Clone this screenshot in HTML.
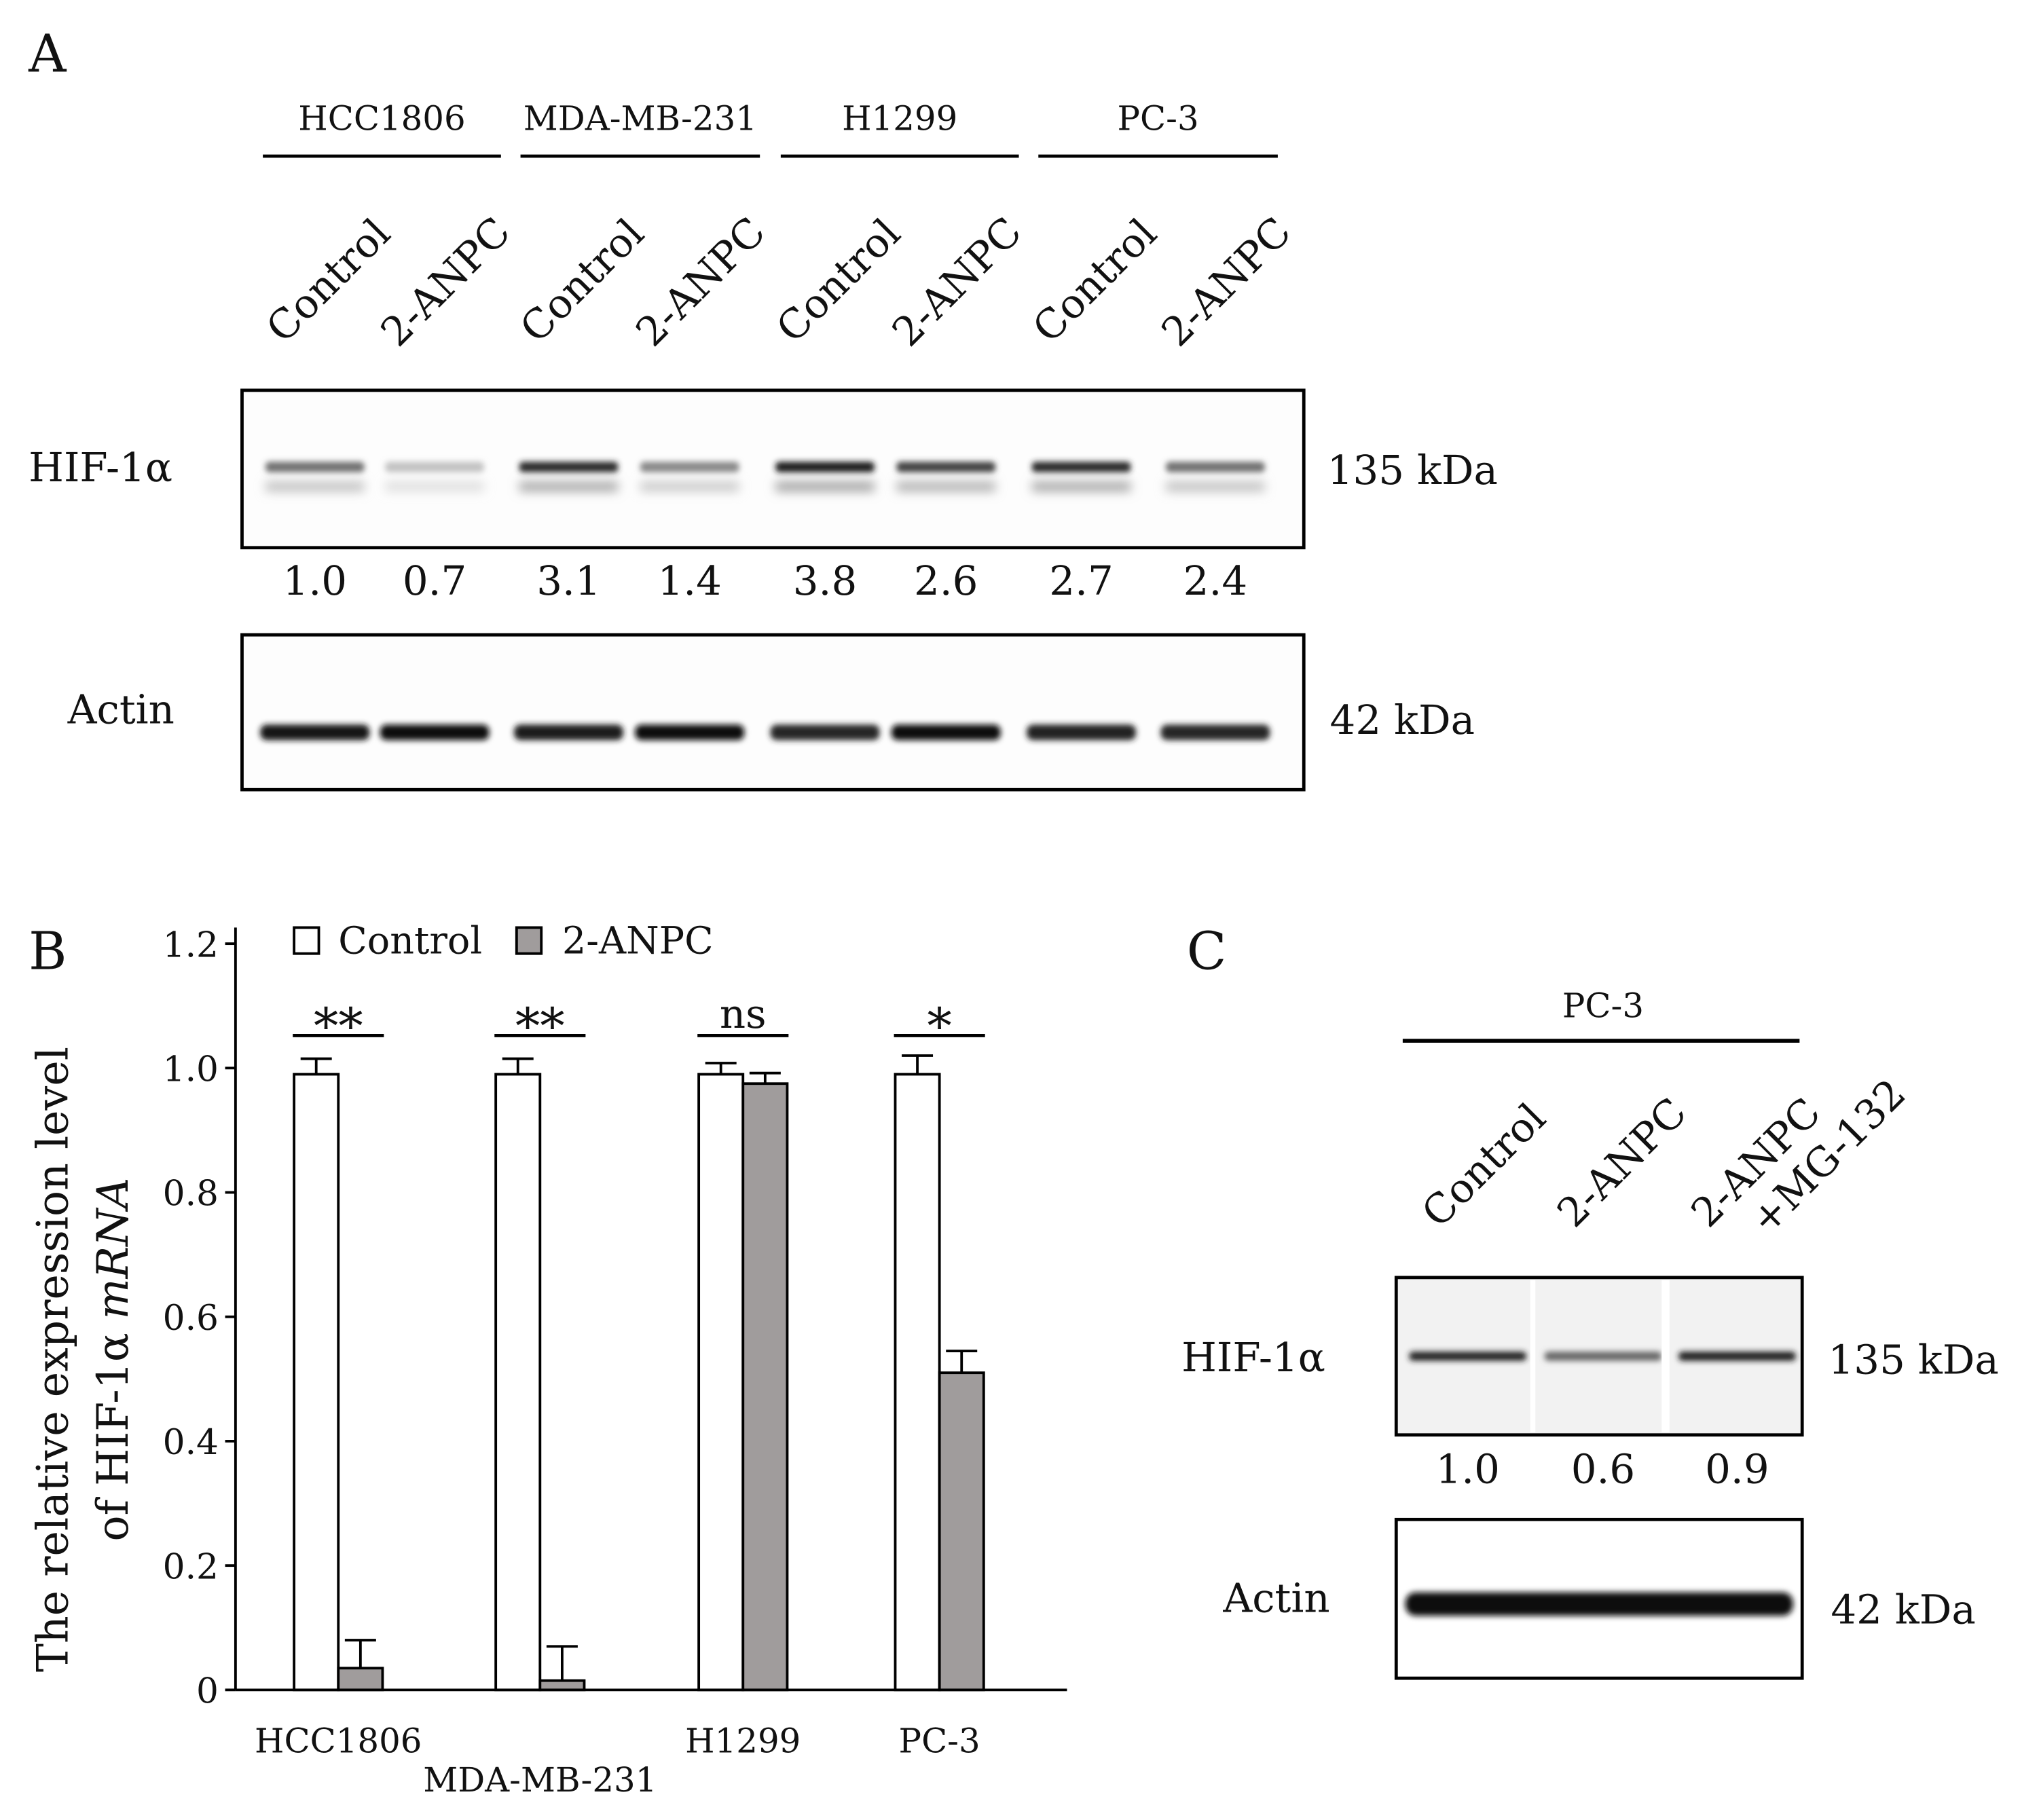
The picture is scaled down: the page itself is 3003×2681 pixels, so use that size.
<!DOCTYPE html>
<html><head><meta charset="utf-8"><style>
html,body{margin:0;padding:0;background:#fff}
svg{display:block}
text{font-family:"DejaVu Serif","Liberation Serif",serif;fill:#111}
</style></head><body>
<svg id="fig" width="3003" height="2681" viewBox="0 0 1567 1399" xmlns="http://www.w3.org/2000/svg">
<defs>
<filter id="blur" x="-20%" y="-200%" width="140%" height="500%"><feGaussianBlur stdDeviation="2.2"/></filter>
<filter id="blur2" x="-20%" y="-200%" width="140%" height="500%"><feGaussianBlur stdDeviation="4"/></filter>
</defs>
<g id="panelA"></g>
<g id="panelB"></g>
<g id="panelC"></g>
</svg>
<script>
// Panel B data
const categories = ["HCC1806","MDA-MB-231","H1299","PC-3"];
const controlValues = [0.99, 0.99, 0.99, 0.99];
const controlErrors = [0.025, 0.025, 0.018, 0.03];
const anpcValues = [0.035, 0.015, 0.975, 0.51];
const anpcErrors = [0.045, 0.055, 0.017, 0.035];
const sigLabels = ["**","**","ns","*"];
const yTicks = [0, 0.2, 0.4, 0.6, 0.8, 1.0, 1.2];
const yTickLabels = ["0","0.2","0.4","0.6","0.8","1.0","1.2"];
// Panel A data
const aCellLines = ["HCC1806","MDA-MB-231","H1299","PC-3"];
const aLanes = ["Control","2-ANPC","Control","2-ANPC","Control","2-ANPC","Control","2-ANPC"];
const aRatios = ["1.0","0.7","3.1","1.4","3.8","2.6","2.7","2.4"];
const aHifIntensity = [0.55, 0.2, 0.85, 0.45, 0.92, 0.75, 0.85, 0.55];
const aActinIntensity = [0.95, 1.0, 0.92, 1.0, 0.88, 0.98, 0.9, 0.88];
// Panel C data
const cLanes = ["Control","2-ANPC","2-ANPC|+MG-132"];
const cRatios = ["1.0","0.6","0.9"];
const cHifIntensity = [0.9, 0.6, 0.92];

const NS="http://www.w3.org/2000/svg";
function mk(parent, tag, attrs, txt){
  const e=document.createElementNS(NS,tag);
  for(const k in attrs) e.setAttribute(k,attrs[k]);
  if(txt!==undefined) e.textContent=txt;
  parent.appendChild(e); return e;
}
function gray(v){const c=Math.round(255*(1-v)*0.9+10);return `rgb(${c},${c},${c})`;}

// ---------- Panel A ----------
const A=document.getElementById('panelA');
let t=mk(A,'text',{x:22,y:55,'font-size':40},'A');


const groupX=[[202,385],[400,584],[600,783],[798,982]];
aCellLines.forEach((c,i)=>{
  const [x0,x1]=groupX[i];
  let l=mk(A,'line',{x1:x0,x2:x1,y1:120,y2:120,stroke:'#000','stroke-width':2.5});
  
  
  let tt=mk(A,'text',{x:(x0+x1)/2,y:100,'font-size':26,'text-anchor':'middle'},c);
  
  
});
const laneX=[242,334,437,530,634,727,831,934];
aLanes.forEach((n,i)=>{
  const sx=laneX[i]-(i%2?28:24), sy=i%2?268:265;
  let tt=mk(A,'text',{x:sx,y:sy,'font-size':31,transform:`rotate(-45 ${sx} ${sy})`},n);
  
  
});
// HIF blot
let bx=mk(A,'rect',{x:186,y:300,width:816,height:121,fill:'#fdfdfd',stroke:'#000','stroke-width':2.5});


aHifIntensity.forEach((v,i)=>{
  let s=mk(A,'rect',{x:laneX[i]-38,y:370,width:76,height:8,fill:gray(v*0.35),filter:'url(#blur2)'});
  
  
  let b=mk(A,'rect',{x:laneX[i]-38,y:355,width:76,height:8,rx:3,fill:gray(v),filter:'url(#blur)'});
  
  
});
aRatios.forEach((r,i)=>{
  let tt=mk(A,'text',{x:laneX[i],y:457,'font-size':31,'text-anchor':'middle'},r);
  
  
});
bx=mk(A,'rect',{x:186,y:488,width:816,height:119,fill:'#fdfdfd',stroke:'#000','stroke-width':2.5});


aActinIntensity.forEach((v,i)=>{
  let b=mk(A,'rect',{x:laneX[i]-42,y:557,width:84,height:12,rx:5,fill:gray(v),filter:'url(#blur)'});
  
  
});
[['HIF-1α',22,370,'hif-label-a'],['Actin',52,556,'actin-label-a'],['135 kDa',1020,372,'hif-kda-a'],['42 kDa',1022,564,'actin-kda-a']].forEach(a=>{
  let tt=mk(A,'text',{x:a[1],y:a[2],'font-size':31},a[0]);
  
  
});

// ---------- Panel B ----------
const B=document.getElementById('panelB');
const x0=181, yZero=1299, pxPerUnit=(1299-821)/1.0;
const yS=v=>yZero-v*pxPerUnit;
const groupLeft=[226,381,537,688], barW=34;
t=mk(B,'text',{x:22,y:745,'font-size':40},'B');


let ax=mk(B,'line',{x1:x0,x2:x0,y1:713,y2:yZero,stroke:'#000','stroke-width':2});


ax=mk(B,'line',{x1:x0,x2:820,y1:yZero,y2:yZero,stroke:'#000','stroke-width':2});


yTicks.forEach((v,i)=>{
  let tk=mk(B,'line',{x1:x0-8,x2:x0,y1:yS(v),y2:yS(v),stroke:'#000','stroke-width':2});
  
  
  let tl=mk(B,'text',{x:x0-13,y:yS(v)+10,'font-size':27,'text-anchor':'end'},yTickLabels[i]);
  
  
});
let yt=mk(B,'text',{transform:'translate(52 1045) rotate(-90)','font-size':33,'text-anchor':'middle'},'The relative expression level');


yt=mk(B,'text',{transform:'translate(98 1045) rotate(-90)','font-size':33,'text-anchor':'middle'});


mk(yt,'tspan',{},'of HIF-1α ');
mk(yt,'tspan',{'font-style':'italic'},'mRNA');
function errBar(cx,top,err,name){
  const g=mk(B,'g',{});
  
  
  mk(g,'line',{x1:cx,x2:cx,y1:yS(top),y2:yS(top+err),stroke:'#000','stroke-width':2});
  mk(g,'line',{x1:cx-12,x2:cx+12,y1:yS(top+err),y2:yS(top+err),stroke:'#000','stroke-width':2});
}
categories.forEach((c,i)=>{
  const gx=groupLeft[i];
  errBar(gx+barW/2,controlValues[i],controlErrors[i],'control-error-'+i);
  errBar(gx+barW*1.5,anpcValues[i],anpcErrors[i],'anpc-error-'+i);
  let r=mk(B,'rect',{x:gx,y:yS(controlValues[i]),width:barW,height:yZero-yS(controlValues[i]),fill:'#fff',stroke:'#000','stroke-width':2});
  
  
  r=mk(B,'rect',{x:gx+barW,y:yS(anpcValues[i]),width:barW,height:yZero-yS(anpcValues[i]),fill:'#a09c9c',stroke:'#000','stroke-width':2});
  
  
  let s=mk(B,'line',{x1:gx-1,x2:gx+2*barW+1,y1:796,y2:796,stroke:'#000','stroke-width':2.5});
  
  
  let st=mk(B,'text',{x:gx+barW,y:sigLabels[i]==='ns'?790:802,'font-size':sigLabels[i]==='ns'?31:38,'text-anchor':'middle'},sigLabels[i]);
  
  
  let xl=mk(B,'text',{x:gx+barW,y:i===1?1377:1347,'font-size':26,'text-anchor':'middle'},c);
  
  
});
let lg=mk(B,'g',{});


let le=mk(lg,'rect',{x:226,y:713,width:19,height:20,fill:'#fff',stroke:'#000','stroke-width':2});


le=mk(lg,'text',{x:260,y:733,'font-size':29},'Control');


le=mk(lg,'rect',{x:397,y:713,width:19,height:20,fill:'#a09c9c',stroke:'#000','stroke-width':2});


le=mk(lg,'text',{x:432,y:733,'font-size':29},'2-ANPC');



// ---------- Panel C ----------
const C=document.getElementById('panelC');
t=mk(C,'text',{x:912,y:745,'font-size':40},'C');


t=mk(C,'text',{x:1232,y:782,'font-size':26,'text-anchor':'middle'},'PC-3');


let cl=mk(C,'line',{x1:1078,x2:1383,y1:800,y2:800,stroke:'#000','stroke-width':3});


const cLaneX=[1128,1232,1335];
cLanes.forEach((n,i)=>{
  const sx=cLaneX[i]-22, sy=945;
  const parts=n.split('|');
  let tt=mk(C,'text',{x:sx,y:sy,'font-size':31,transform:`rotate(-45 ${sx} ${sy})`});
  
  
  mk(tt,'tspan',{x:sx,y:sy},parts[0]);
  if(parts[1]) mk(tt,'tspan',{x:sx+28,y:sy+36},parts[1]);
});
bx=mk(C,'rect',{x:1073,y:982,width:312,height:121,fill:'#f2f2f2',stroke:'#000','stroke-width':2.5});


cHifIntensity.forEach((v,i)=>{
  let b=mk(C,'rect',{x:cLaneX[i]-45,y:1039,width:90,height:7,rx:3,fill:gray(v),filter:'url(#blur)'});
  
  
});
let sep=mk(C,'rect',{x:1176,y:984,width:4,height:117,fill:'#fff'});


sep=mk(C,'rect',{x:1277,y:984,width:6,height:117,fill:'#fff'});


cRatios.forEach((r,i)=>{
  let tt=mk(C,'text',{x:cLaneX[i],y:1140,'font-size':31,'text-anchor':'middle'},r);
  
  
});
bx=mk(C,'rect',{x:1073,y:1168,width:312,height:122,fill:'#fff',stroke:'#000','stroke-width':2.5});


let ab=mk(C,'rect',{x:1080,y:1224,width:298,height:18,rx:8,fill:'#111',filter:'url(#blur)'});


[['HIF-1α',908,1054,'hif-label-c'],['Actin',940,1239,'actin-label-c'],['135 kDa',1405,1056,'hif-kda-c'],['42 kDa',1407,1248,'actin-kda-c']].forEach(a=>{
  let tt=mk(C,'text',{x:a[1],y:a[2],'font-size':31},a[0]);
  
  
});
</script>
</body></html>
